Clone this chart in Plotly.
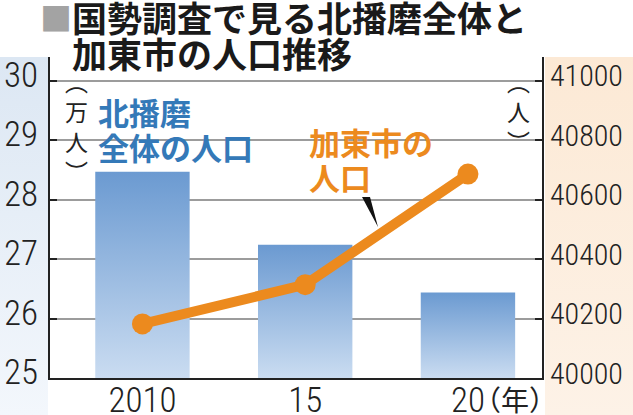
import base64

import plotly.graph_objects as go

# 国勢調査: 北播磨全体 (万人) と 加東市 (人)
years = ["2010", "15", "20"]
kitaharima_total = [28.47, 27.24, 26.44]
kato_city = [40182, 40314, 40686]
left_ticks = [25, 26, 27, 28, 29, 30]
right_ticks = [40000, 40200, 40400, 40600, 40800, 41000]

W, H = 633, 415
L, R, T, B = 50, 91, 57, 37
PW, PH = W - L - R, H - T - B

CJK = "Noto Sans CJK JP"
NUM = "Roboto Condensed, Liberation Sans Narrow, DejaVu Sans Condensed, sans-serif"
BLUE = "#3479b8"
ORANGE = "#ec8a1e"
INK = "#222222"


def px(x):
    return (x - L) / PW


def py(y):
    return (H - B - y) / PH


def gradient_uri(top, bottom):
    svg = (
        "<svg xmlns='http://www.w3.org/2000/svg' width='10' height='100' "
        "viewBox='0 0 10 100' preserveAspectRatio='none'>"
        "<defs><linearGradient id='g' x1='0' y1='0' x2='0' y2='1'>"
        f"<stop offset='0' stop-color='{top}'/><stop offset='1' stop-color='{bottom}'/>"
        "</linearGradient></defs><rect width='10' height='100' fill='url(#g)'/></svg>"
    )
    return "data:image/svg+xml;base64," + base64.b64encode(svg.encode()).decode()


def paper_rect(x0, y0, x1, y1, color="white", layer="between"):
    return dict(
        type="rect", xref="paper", yref="paper",
        x0=px(x0), x1=px(x1), y0=py(y1), y1=py(y0),
        fillcolor=color, line=dict(width=0), layer=layer,
    )


fig = go.Figure()

half = 0.29
for i, value in enumerate(kitaharima_total):
    fig.add_trace(
        go.Scatter(
            x=[i - half, i - half, i + half, i + half, i - half],
            y=[left_ticks[0], value, value, left_ticks[0], left_ticks[0]],
            mode="lines",
            line=dict(width=0, color="rgba(0,0,0,0)"),
            fill="toself",
            fillgradient=dict(type="vertical", colorscale=[[0, "#cadcf1"], [1, "#6b9ad1"]]),
            hoverinfo="skip",
            showlegend=False,
        )
    )

fig.add_trace(
    go.Scatter(
        x=list(range(len(years))),
        y=kato_city,
        yaxis="y2",
        mode="lines+markers",
        line=dict(color=ORANGE, width=10),
        marker=dict(size=21, color=ORANGE),
        showlegend=False,
    )
)

axis_common = dict(
    zeroline=False,
    showline=True,
    linecolor=INK,
    linewidth=2,
    automargin=False,
)

fig.update_layout(
    width=W,
    height=H,
    margin=dict(l=L, r=R, t=T, b=B),
    paper_bgcolor="white",
    plot_bgcolor="white",
    xaxis=dict(
        range=[-0.568, 2.455],
        tickvals=list(range(len(years))),
        ticktext=years,
        showgrid=False,
        ticks="",
        ticklabelstandoff=-10,
        tickfont=dict(family=NUM, size=35, color=INK, weight=300),
        **axis_common,
    ),
    yaxis=dict(
        range=[25, 30.4],
        tickvals=left_ticks,
        ticktext=[str(v) for v in left_ticks],
        showgrid=True,
        gridcolor="#9c9c9c",
        gridwidth=1.5,
        ticks="inside",
        ticklen=7,
        tickwidth=1.5,
        tickcolor=INK,
        ticklabelshift=-6,
        ticklabelstandoff=3,
        tickfont=dict(family=NUM, size=35, color=INK, weight=300),
        **axis_common,
    ),
    yaxis2=dict(
        range=[40000, 41080],
        tickvals=right_ticks,
        ticktext=[str(v) for v in right_ticks],
        overlaying="y",
        side="right",
        showgrid=False,
        ticks="inside",
        ticklen=7,
        tickwidth=1.5,
        tickcolor=INK,
        ticklabelshift=-5,
        tickfont=dict(family=NUM, size=30, color=INK, weight=300),
        **axis_common,
    ),
    images=[
        dict(
            source=gradient_uri("#dce7f3", "#f3f7fc"),
            xref="paper", yref="paper",
            x=px(0), y=py(57), sizex=px(48) - px(0), sizey=py(57) - py(H),
            xanchor="left", yanchor="top", sizing="stretch", layer="below",
        ),
        dict(
            source=gradient_uri("#fce9d5", "#fdf2e7"),
            xref="paper", yref="paper",
            x=px(545), y=py(57), sizex=px(W) - px(545), sizey=py(57) - py(H),
            xanchor="left", yanchor="top", sizing="stretch", layer="below",
        ),
    ],
    shapes=[
        # white behind the labels so the grid line stops there
        paper_rect(62, 88, 266, 164),
        paper_rect(306, 128, 442, 160),
        dict(
            type="path",
            xref="paper", yref="paper",
            path=f"M {px(362)} {py(197)} L {px(370)} {py(197)} L {px(378)} {py(227)} Z",
            fillcolor="#111111",
            line=dict(width=0),
            layer="above",
        ),
    ],
)


def label(text, x, y, size, color, weight="normal", family=CJK, align="left"):
    fig.add_annotation(
        text=text,
        xref="paper", yref="paper",
        x=px(x), y=py(y),
        xanchor="left", yanchor="middle",
        align=align,
        showarrow=False,
        font=dict(family=family, size=size, color=color, weight=weight),
        borderpad=0,
    )


# title
label("■", 39, 17, 32, "#a3a3a3")
label("国勢調査で見る北播磨全体と", 71, 16, 35, "#1a1a1a", weight="bold")
label("加東市の人口推移", 71, 52, 35, "#1a1a1a", weight="bold")

# series labels
label("北播磨", 97, 111, 31, BLUE, weight="bold")
label("全体の人口", 97, 146, 31, BLUE, weight="bold")
label("加東市の", 308, 141, 31, ORANGE, weight="bold")
label("人口", 308, 176, 31, ORANGE, weight="bold")

# units
label("︵<br>万<br>人<br>︶", 64, 126, 23, INK, align="center")
label("︵<br>人<br>︶", 506, 111, 23, INK, align="center")
label("（年）", 472, 399, 28, INK)

# the page is photographed from its top-left corner
fig.write_html(
    "out.html",
    config={"displayModeBar": False},
    post_script="document.body.style.margin = '0';",
)
